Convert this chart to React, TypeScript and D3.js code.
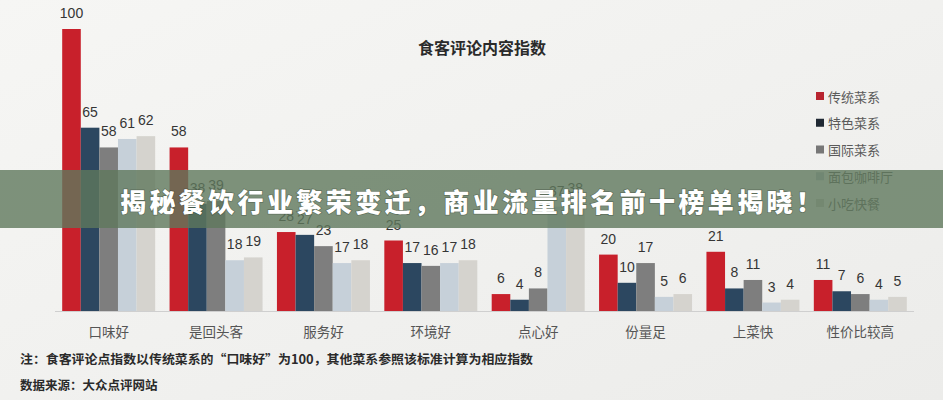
import React, { useEffect } from "react";
import * as d3 from "d3";

const categories = ["口味好", "是回头客", "服务好", "环境好", "点心好", "份量足", "上菜快", "性价比较高"];
const seriesNames = ["传统菜系", "特色菜系", "国际菜系", "面包咖啡厅", "小吃快餐"];
const traditional = [100, 58, 28, 25, 6, 20, 21, 11];
const special = [65, 38, 27, 17, 4, 10, 8, 7];
const international = [58, 39, 23, 16, 8, 17, 11, 6];
const bakery = [61, 18, 17, 17, 37, 5, 3, 4];
const snack = [62, 19, 18, 18, 38, 6, 4, 5];
const seriesValues = [traditional, special, international, bakery, snack];
const colors = ["#c8202b", "#2c4760", "#7e7e7e", "#c6d0d9", "#d5d3ce"];
const legendColors = ["#b8242f", "#1f2833", "#777777", "#b9c2ca", "#c9c7c2"];

const chartTitle = "食客评论内容指数";
const bannerText = "揭秘餐饮行业繁荣变迁，商业流量排名前十榜单揭晓！";
const noteText = "注：食客评论点指数以传统菜系的“口味好”为100，其他菜系参照该标准计算为相应指数";
const sourceText = "数据来源：大众点评网站";

const W = 943;
const H = 400;

export default function App() {
  useEffect(() => {
    document.body.style.margin = "0";
  }, []);

  const x0 = d3.scaleBand<string>().domain(categories).range([55, 914]).paddingInner(0.134).paddingOuter(0.067);
  const x1 = d3.scaleBand<string>().domain(seriesNames).range([0, x0.bandwidth()]).padding(0);
  const y = d3.scaleLinear().domain([0, 100]).range([311, 29]);
  const legendY = d3.scalePoint<string>().domain(seriesNames).range([96, 203]);

  const cjk = "'Noto Sans CJK SC', 'Noto Sans', sans-serif";

  return (
    <svg width={W} height={H} style={{ display: "block", position: "absolute", left: 0, top: 0 }}>
      <defs>
        <linearGradient id="bg" x1="0" y1="0" x2="1" y2="1">
          <stop offset="0" stopColor="#f6f6f4" />
          <stop offset="0.5" stopColor="#f1f1ef" />
          <stop offset="1" stopColor="#ececea" />
        </linearGradient>
      </defs>
      <rect x={0} y={0} width={W} height={H} fill="url(#bg)" />

      <text x={482} y={47} textAnchor="middle" dominantBaseline="central" fontFamily={cjk} fontWeight={700} fontSize={16} fill="#2a2a2a">
        {chartTitle}
      </text>

      {categories.map((c, ci) => (
        <g key={c} transform={`translate(${x0(c)},0)`}>
          {seriesNames.map((s, si) => {
            const v = seriesValues[si][ci];
            const bx = x1(s)!;
            return (
              <g key={s}>
                <rect x={bx} y={y(v)} width={x1.bandwidth()} height={y(0) - y(v)} fill={colors[si]} />
                <text x={bx + x1.bandwidth() / 2} y={y(v) - 11} textAnchor="middle" fontFamily="'Liberation Sans', Arial, sans-serif" fontSize={14} fill="#353535">
                  {v}
                </text>
              </g>
            );
          })}
          <text x={x0.bandwidth() / 2} y={331} textAnchor="middle" dominantBaseline="central" fontFamily={cjk} fontSize={13.5} fill="#555">
            {c}
          </text>
        </g>
      ))}

      <line x1={55} x2={914} y1={y(0) + 0.5} y2={y(0) + 0.5} stroke="#cfcfcf" strokeWidth={1} />

      {seriesNames.map((s, si) => (
        <g key={s} transform={`translate(816,${legendY(s)})`}>
          <rect x={0} y={-4} width={8} height={8} fill={legendColors[si]} />
          <text x={12} y={0} dominantBaseline="central" fontFamily={cjk} fontSize={13} fill="#5a5a5a">
            {s}
          </text>
        </g>
      ))}

      <text x={20} y={358} dominantBaseline="central" fontFamily={cjk} fontWeight={700} fontSize={12.5} fill="#2a2a2a" textLength={513} lengthAdjust="spacingAndGlyphs">
        {noteText}
      </text>
      <text x={20} y={384} dominantBaseline="central" fontFamily={cjk} fontWeight={700} fontSize={12.5} fill="#2a2a2a">
        {sourceText}
      </text>

      <rect x={0} y={170} width={W} height={58} fill="rgb(95,120,92)" opacity={0.8} />
      <text x={120} y={200} dominantBaseline="central" fontFamily={cjk} fontWeight={900} fontSize={26} fill="#ffffff" textLength={702} lengthAdjust="spacing" style={{ paintOrder: "stroke" }} stroke="rgba(40,50,40,0.35)" strokeWidth={1.5}>
        {bannerText}
      </text>
    </svg>
  );
}
